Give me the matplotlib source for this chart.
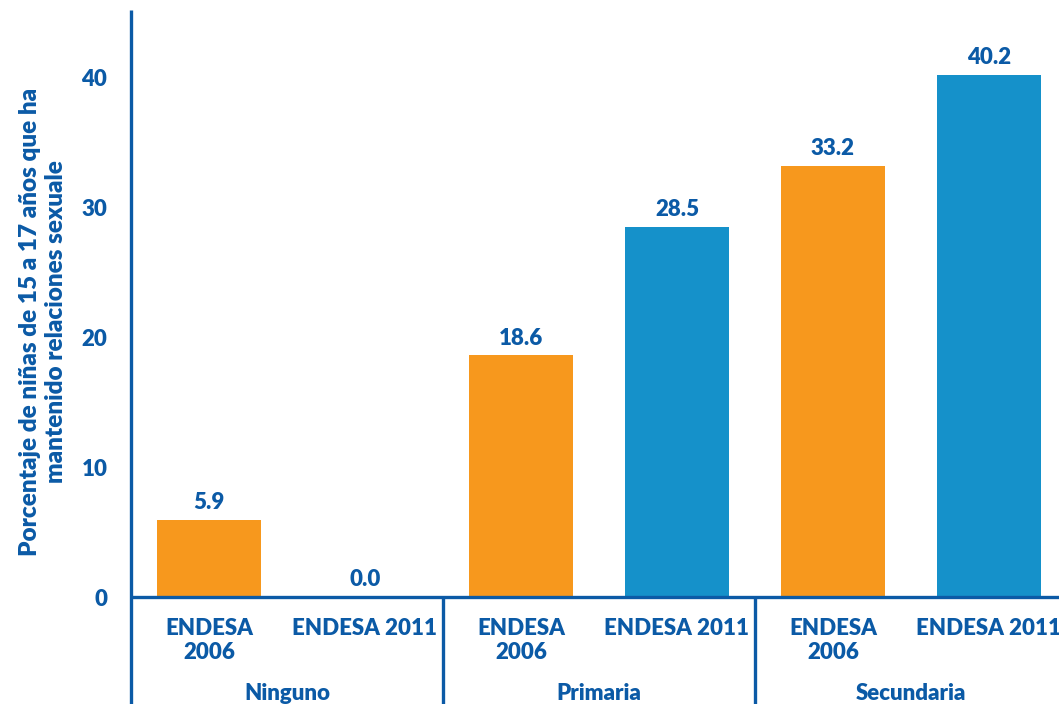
import matplotlib
matplotlib.use("Agg")
import matplotlib.pyplot as plt
import matplotlib.transforms as mtransforms
import numpy as np

# --- Data ---
GROUPS = ["Ninguno", "Primaria", "Secundaria"]
SERIES = ["ENDESA\n2006", "ENDESA 2011"]
VALUES_2006 = [5.9, 18.6, 33.2]
VALUES_2011 = [0.0, 28.5, 40.2]
Y_TICKS = [0, 10, 20, 30, 40]
Y_LABEL = "Porcentaje de niñas de 15 a 17 años que ha\nmantenido relaciones sexuale"

# --- Style ---
ORANGE = "#F7981D"
BLUE = "#1591CA"
TEXT = "#0B5AA6"
LINE = "#0B5AA6"
FONT = "Lato"
WEIGHT = "heavy"
FS = 16

plt.rcParams["font.family"] = [FONT, "DejaVu Sans"]
plt.rcParams["font.weight"] = WEIGHT

fig = plt.figure(figsize=(10.59, 7.04), dpi=100)
W, H = 1059, 704
# axes spans x 131..1067 px, y 10..597 px (from top)
ax = fig.add_axes([131 / W, (H - 597) / H, 936 / W, 587 / H])

n_series = len(SERIES)
colors = [ORANGE, BLUE]
positions = []
labels = []
for g, grp in enumerate(GROUPS):
    vals = [VALUES_2006[g], VALUES_2011[g]]
    for s in range(n_series):
        x = g * n_series + s
        ax.bar(x, vals[s], width=0.673, color=colors[s], zorder=2)
        ax.annotate(f"{vals[s]:.1f}", (x, vals[s]), xytext=(0, 5),
                    textcoords="offset points", ha="center", va="bottom",
                    fontsize=FS, color=TEXT, fontweight=WEIGHT)
        positions.append(x)
        labels.append(SERIES[s])

ax.set_xlim(-0.5, len(GROUPS) * n_series - 0.5)
ax.set_ylim(0, 45.2)

ax.set_xticks(positions)
ax.set_xticklabels(labels, fontsize=FS, color=TEXT, fontweight=WEIGHT,
                   linespacing=1.2)
ax.tick_params(axis="x", length=0, pad=15)
ax.set_yticks(Y_TICKS)
ax.set_yticklabels([str(t) for t in Y_TICKS], fontsize=FS, color=TEXT,
                   fontweight=WEIGHT)
ax.tick_params(axis="y", length=0, pad=17)

for sp in ax.spines.values():
    sp.set_visible(False)

# axis lines, drawn past the axes so they run to the bottom edge
drop = -107 / 587
ax.plot([0, 0], [drop, 1], transform=ax.transAxes, color=LINE, lw=2.4,
        clip_on=False, solid_capstyle="butt")
ax.plot([0, 1], [0, 0], transform=ax.transAxes, color=LINE, lw=2.4,
        clip_on=False, solid_capstyle="butt")
for k in range(1, len(GROUPS)):
    ax.plot([k / len(GROUPS)] * 2, [drop, 0], transform=ax.transAxes,
            color=LINE, lw=2.4, clip_on=False, solid_capstyle="butt")

# group labels
trans = mtransforms.blended_transform_factory(ax.transData, ax.transAxes)
for g, grp in enumerate(GROUPS):
    ax.text(g * n_series + 0.5, -96 / 587, grp, transform=trans,
            ha="center", va="center", fontsize=FS, color=TEXT,
            fontweight=WEIGHT, clip_on=False)

fig.text(43 / W, (H - 322) / H, Y_LABEL, rotation=90, ha="center",
         va="center", fontsize=17.5, color=TEXT, fontweight=WEIGHT,
         linespacing=1.2)

fig.savefig("out.png", dpi=100)
